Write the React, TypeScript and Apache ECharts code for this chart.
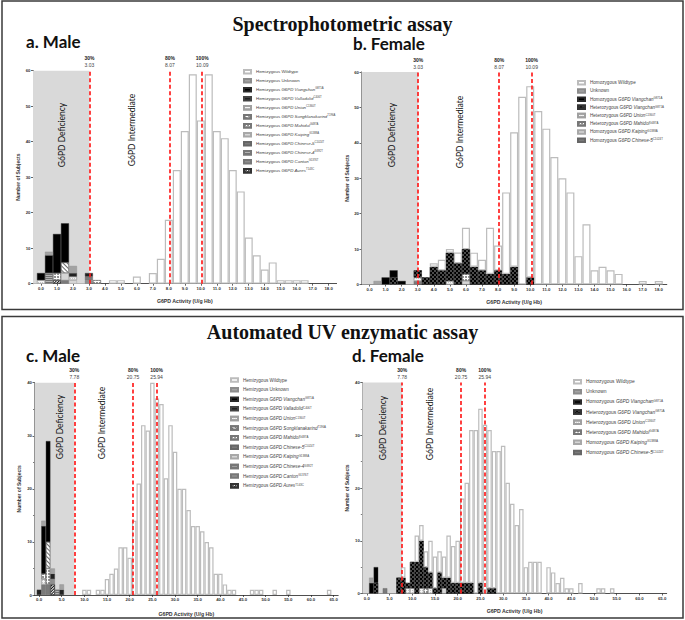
import React, { useEffect, useRef } from "react";
import * as echarts from "echarts";

// ---------- tick labels & thresholds ----------
const SPEC_X_TICKS = [0, 1, 2, 3, 4, 5, 6, 7, 8, 9, 10, 11, 12, 13, 14, 15, 16, 17, 18];
const UV_X_TICKS = [0, 5, 10, 15, 20, 25, 30, 35, 40, 45, 50, 55, 60, 65];
const SPEC_THRESHOLDS = [
  { pct: "30%", value: 3.03 },
  { pct: "80%", value: 8.07 },
  { pct: "100%", value: 10.09 },
];
const UV_THRESHOLDS = [
  { pct: "30%", value: 7.78 },
  { pct: "80%", value: 20.75 },
  { pct: "100%", value: 25.94 },
];

// ---------- a. Male, spectrophotometric ([activity bin, count]) ----------
const A_WILDTYPE = [[4.5, 1], [5, 1], [6, 2], [7, 3], [7.5, 7], [8, 18], [8.5, 32], [9, 43], [9.5, 59], [10, 46], [10.5, 59], [11, 43], [11.5, 41], [12, 32], [12.5, 26], [13, 13], [13.5, 8], [14, 4], [14.5, 6], [15, 1], [15.5, 1], [16, 1], [16.5, 1]];
const A_UNKNOWN = [[0.5, 1], [2, 2]];
const A_VIANGCHAN = [[0, 2], [0.5, 5], [1, 11], [1.5, 11]];
const A_VALLADOLID = [[2, 1], [3, 1]];
const A_UNION = [[0, 1], [2, 1]];
const A_SONGKLANAKARIND = [[1.5, 3]];
const A_MAHIDOL = [[1, 2], [3.5, 1]];
const A_KAIPING = [[1.5, 2], [2, 1]];
const A_CHINESE5 = [[1.5, 1], [3, 1]];
const A_CHINESE4 = [[0.5, 3]];
const A_CANTON = [[3, 1]];
const A_AURES = [[1, 1]];

// ---------- b. Female, spectrophotometric ----------
const B_WILDTYPE = [[4, 1], [4.5, 3], [5, 1], [5.5, 3], [6, 6], [6.5, 4], [7, 3], [7.5, 13], [8, 7], [8.5, 23], [9, 38], [9.5, 53], [10, 54], [10.5, 49], [11, 44], [11.5, 36], [12, 30], [12.5, 26], [13, 8], [13.5, 17], [14, 4], [14.5, 5], [15, 4], [15.5, 3], [17, 1], [18, 1]];
const B_UNKNOWN = [[0.5, 1]];
const B_HOM_VIANGCHAN = [[1, 2], [1.5, 2], [2, 1]];
const B_HET_VIANGCHAN = [[1.5, 2], [3, 2], [3.5, 2], [4, 5], [4.5, 4], [5, 8], [5.5, 6], [6, 7], [6.5, 5], [7, 4], [7.5, 3], [8, 4], [8.5, 3], [9, 5], [10, 2]];
const B_HET_UNION = [[3, 1], [5, 1]];
const B_HET_MAHIDOL = [[6, 2]];
const B_HOM_KAIPING = [[6, 1]];
const B_HOM_CHINESE5 = [[3, 1]];

// ---------- c. Male, automated UV ----------
const C_WILDTYPE = [[10, 1], [11, 1], [13, 1], [14, 1], [15, 3], [16, 4], [17, 5], [18, 9], [19, 9], [20, 7], [21, 14], [22, 21], [23, 32], [24, 31], [25, 40], [26, 37], [27, 36], [28, 22], [29, 32], [30, 27], [31, 20], [32, 20], [33, 16], [34, 13], [35, 13], [36, 12], [37, 10], [38, 9], [39, 4], [40, 4], [41, 2], [42, 1], [43, 1], [47, 1], [48, 1], [49, 1], [52, 1], [55, 1], [64, 1]];
const C_UNKNOWN = [[1, 1], [3, 1], [5, 1]];
const C_VIANGCHAN = [[1, 9], [2, 19]];
const C_VALLADOLID = [[0, 1], [3, 1], [5, 1]];
const C_UNION = [[1, 1]];
const C_SONGKLANAKARIND = [[2, 5]];
const C_MAHIDOL = [[1, 1], [2, 3]];
const C_KAIPING: number[][] = [];
const C_CHINESE5 = [[1, 2], [2, 2]];
const C_CHINESE4 = [[4, 1]];
const C_CANTON = [[3, 1]];
const C_AURES = [[3, 2]];

// ---------- d. Female, automated UV ----------
const D_WILDTYPE = [[8, 2], [11, 5], [12, 3], [13, 3], [14, 6], [15, 6], [16, 4], [17, 4], [18, 8], [19, 7], [20, 8], [21, 16], [22, 19], [23, 29], [24, 31], [25, 33], [26, 32], [27, 30], [28, 26], [29, 27], [30, 28], [31, 21], [32, 17], [33, 13], [34, 16], [35, 5], [36, 6], [37, 6], [38, 6], [40, 5], [41, 4], [42, 2], [43, 3], [44, 1], [45, 1], [47, 2], [51, 1], [52, 1], [54, 1]];
const D_UNKNOWN = [[1, 1]];
const D_HOM_VIANGCHAN = [[1, 2], [2, 3]];
const D_HET_VIANGCHAN = [[2, 2], [7, 3], [8, 3], [9, 1], [10, 5], [11, 6], [12, 9], [13, 4], [14, 3], [15, 1], [16, 4], [17, 2], [18, 3], [19, 2], [20, 2], [21, 2], [22, 2], [23, 2], [25, 2], [27, 1], [28, 1]];
const D_HET_UNION = [[9, 1], [10, 1], [12, 1], [14, 1]];
const D_HET_MAHIDOL = [[13, 1]];
const D_HOM_KAIPING = [[17, 1]];
const D_HOM_CHINESE5 = [[4, 1]];

const SUPERSCRIPTS: Record<string, string> = {
  Viangchan: "G871A",
  Valladolid: "C406T",
  Union: "C1360T",
  Songklanakarind: "T196A",
  Mahidol: "G487A",
  Kaiping: "G1388A",
  "Chinese-5": "C1024T",
  "Chinese-4": "G392T",
  Canton: "G1376T",
  Aures: "T143C",
};

// ---------- styles ----------
const decalChecker = () => ({ symbol: "rect", symbolSize: 1, color: "#000", dashArrayX: [[2, 2], [0, 2, 2, 0]], dashArrayY: [2, 0] });
const decalHatchLight = () => ({ symbol: "rect", symbolSize: 1, color: "#6a6a6a", dashArrayX: [1, 0], dashArrayY: [1, 2], rotation: Math.PI / 4 });
const decalHatchDark = () => ({ symbol: "rect", symbolSize: 1, color: "#111", dashArrayX: [1, 0], dashArrayY: [1, 1], rotation: -Math.PI / 4 });
const decalRings = () => ({ symbol: "circle", symbolSize: 0.8, color: "#555", dashArrayX: [2, 1], dashArrayY: [2, 1] });
const decalLines = () => ({ symbol: "rect", symbolSize: 1, color: "#6f6f6f", dashArrayX: [1, 0], dashArrayY: [1, 1] });
const decalDots = () => ({ symbol: "rect", symbolSize: 1, color: "#c4c4c4", dashArrayX: [1, 1], dashArrayY: [1, 1] });

const STYLES: Record<string, () => any> = {
  wildtype: () => ({ color: "#ffffff", borderColor: "#bcbcbc", borderWidth: 1.2 }),
  unknown: () => ({ color: "#a3a3a3", borderColor: "#8c8c8c", borderWidth: 0.4 }),
  viangchan: () => ({ color: "#000000", borderColor: "#2a2a2a", borderWidth: 0.4 }),
  hetViangchan: () => ({ color: "#4a4a4a", borderColor: "#333", borderWidth: 0.4, decal: decalChecker() }),
  valladolid: () => ({ color: "#222222", borderColor: "#444", borderWidth: 0.4 }),
  union: () => ({ color: "#f5f5f5", borderColor: "#a0a0a0", borderWidth: 0.5, decal: decalDots() }),
  songklanakarind: () => ({ color: "#ffffff", borderColor: "#777", borderWidth: 0.5, decal: decalHatchLight() }),
  mahidol: () => ({ color: "#ffffff", borderColor: "#777", borderWidth: 0.5, decal: decalRings() }),
  kaiping: () => ({ color: "#d6d6d6", borderColor: "#a8a8a8", borderWidth: 0.5 }),
  chinese5: () => ({ color: "#7a7a7a", borderColor: "#666", borderWidth: 0.4 }),
  chinese4: () => ({ color: "#b3b3b3", borderColor: "#777", borderWidth: 0.4, decal: decalLines() }),
  canton: () => ({ color: "#8f8f8f", borderColor: "#777", borderWidth: 0.4 }),
  aures: () => ({ color: "#ffffff", borderColor: "#333", borderWidth: 0.5, decal: decalHatchDark() }),
};

type Layer = [string, string, number[][]];

// layers listed bottom -> top of each stacked bar
const PANEL_LAYERS: Layer[][] = [
  [
    ["Hemizygous G6PD Aures", "aures", A_AURES],
    ["Hemizygous G6PD Chinese-4", "chinese4", A_CHINESE4],
    ["Hemizygous G6PD Canton", "canton", A_CANTON],
    ["Hemizygous G6PD Chinese-5", "chinese5", A_CHINESE5],
    ["Hemizygous G6PD Kaiping", "kaiping", A_KAIPING],
    ["Hemizygous G6PD Union", "union", A_UNION],
    ["Hemizygous G6PD Mahidol", "mahidol", A_MAHIDOL],
    ["Hemizygous G6PD Songklanakarind", "songklanakarind", A_SONGKLANAKARIND],
    ["Hemizygous G6PD Valladolid", "valladolid", A_VALLADOLID],
    ["Hemizygous G6PD Viangchan", "viangchan", A_VIANGCHAN],
    ["Hemizygous Unknown", "unknown", A_UNKNOWN],
    ["Hemizygous Wildtype", "wildtype", A_WILDTYPE],
  ],
  [
    ["Homozygous G6PD Chinese-5", "chinese5", B_HOM_CHINESE5],
    ["Homozygous G6PD Kaiping", "kaiping", B_HOM_KAIPING],
    ["Heterozygous G6PD Mahidol", "mahidol", B_HET_MAHIDOL],
    ["Heterozygous G6PD Union", "union", B_HET_UNION],
    ["Heterozygous G6PD Viangchan", "hetViangchan", B_HET_VIANGCHAN],
    ["Homozygous G6PD Viangchan", "viangchan", B_HOM_VIANGCHAN],
    ["Unknown", "unknown", B_UNKNOWN],
    ["Homozygous Wildtype", "wildtype", B_WILDTYPE],
  ],
  [
    ["Hemizygous G6PD Aures", "aures", C_AURES],
    ["Hemizygous G6PD Chinese-4", "chinese4", C_CHINESE4],
    ["Hemizygous G6PD Canton", "canton", C_CANTON],
    ["Hemizygous G6PD Chinese-5", "chinese5", C_CHINESE5],
    ["Hemizygous G6PD Kaiping", "kaiping", C_KAIPING],
    ["Hemizygous G6PD Union", "union", C_UNION],
    ["Hemizygous G6PD Mahidol", "mahidol", C_MAHIDOL],
    ["Hemizygous G6PD Songklanakarind", "songklanakarind", C_SONGKLANAKARIND],
    ["Hemizygous G6PD Valladolid", "valladolid", C_VALLADOLID],
    ["Hemizygous G6PD Viangchan", "viangchan", C_VIANGCHAN],
    ["Hemizygous Unknown", "unknown", C_UNKNOWN],
    ["Hemizygous Wildtype", "wildtype", C_WILDTYPE],
  ],
  [
    ["Homozygous G6PD Chinese-5", "chinese5", D_HOM_CHINESE5],
    ["Homozygous G6PD Kaiping", "kaiping", D_HOM_KAIPING],
    ["Heterozygous G6PD Mahidol", "mahidol", D_HET_MAHIDOL],
    ["Heterozygous G6PD Union", "union", D_HET_UNION],
    ["Heterozygous G6PD Viangchan", "hetViangchan", D_HET_VIANGCHAN],
    ["Homozygous G6PD Viangchan", "viangchan", D_HOM_VIANGCHAN],
    ["Unknown", "unknown", D_UNKNOWN],
    ["Homozygous Wildtype", "wildtype", D_WILDTYPE],
  ],
];

const LEGEND_A = ["Hemizygous Wildtype", "Hemizygous Unknown", "Hemizygous G6PD Viangchan", "Hemizygous G6PD Valladolid", "Hemizygous G6PD Union", "Hemizygous G6PD Songklanakarind", "Hemizygous G6PD Mahidol", "Hemizygous G6PD Kaiping", "Hemizygous G6PD Chinese-5", "Hemizygous G6PD Chinese-4", "Hemizygous G6PD Canton", "Hemizygous G6PD Aures"];
const LEGEND_C = ["Hemizygous Wildtype", "Hemizygous Unknown", "Hemizygous G6PD Viangchan", "Hemizygous G6PD Valladolid", "Hemizygous G6PD Union", "Hemizygous G6PD Songklanakarind", "Hemizygous G6PD Mahidol", "Hemizygous G6PD Chinese-5", "Hemizygous G6PD Kaiping", "Hemizygous G6PD Chinese-4", "Hemizygous G6PD Canton", "Hemizygous G6PD Aures"];
const LEGEND_FEMALE = ["Homozygous Wildtype", "Unknown", "Homozygous G6PD Viangchan", "Heterozygous G6PD Viangchan", "Heterozygous G6PD Union", "Heterozygous G6PD Mahidol", "Homozygous G6PD Kaiping", "Homozygous G6PD Chinese-5"];
const PANEL_LEGENDS = [LEGEND_A, LEGEND_FEMALE, LEGEND_C, LEGEND_FEMALE];
const PANEL_THRESHOLDS = [SPEC_THRESHOLDS, SPEC_THRESHOLDS, UV_THRESHOLDS, UV_THRESHOLDS];
const PANEL_TICKS = [SPEC_X_TICKS, SPEC_X_TICKS, UV_X_TICKS, UV_X_TICKS];

// layout (pixels); binStep = histogram bin width in activity units
const LAYOUT = [
  { left: 33, top: 70.7, width: 303.6, height: 213, xMin: -0.5, xMax: 18.5, binStep: 0.5, yMax: 60, barWidth: 8, lg: { left: 243, top: 69, gap: 3.5, fs: 4.4 }, xGap: 15, yGap: 13, minor: false },
  { left: 361.5, top: 72, width: 305.3, height: 212.5, xMin: -0.5, xMax: 18.5, binStep: 0.5, yMax: 60, barWidth: 8, lg: { left: 577, top: 80, gap: 2.7, fs: 4.6 }, xGap: 15, yGap: 12.5, minor: false },
  { left: 34.5, top: 382.7, width: 303.7, height: 212.3, xMin: -1, xMax: 66, binStep: 1, yMax: 40, barWidth: 4.5, lg: { left: 230, top: 377.3, gap: 4.1, fs: 4.6 }, xGap: 16, yGap: 13, minor: true },
  { left: 362.3, top: 382.5, width: 304.4, height: 211, xMin: -1, xMax: 66, binStep: 1, yMax: 40, barWidth: 4.5, lg: { left: 573, top: 379, gap: 4.6, fs: 4.9 }, xGap: 15, yGap: 12.5, minor: true },
];

const FONT = "Liberation Sans";

function legendFormatter(name: string) {
  const i = name.indexOf("G6PD ");
  if (i < 0) return `{p|${name}}`;
  const variant = name.slice(i + 5);
  return `{p|${name.slice(0, i)}}{i|${name.slice(i)}}{s|${SUPERSCRIPTS[variant] ?? ""}}`;
}

const key = (v: number) => Math.round(v * 100) / 100;

function buildOption() {
  const grid: any[] = [];
  const xAxis: any[] = [];
  const yAxis: any[] = [];
  const legend: any[] = [];
  const series: any[] = [];

  LAYOUT.forEach((L, idx) => {
    grid.push({ left: L.left, top: L.top, width: L.width, height: L.height, containLabel: false });
    const ticks = PANEL_TICKS[idx];
    // visible value axis (index 2*idx)
    xAxis.push({
      gridIndex: idx,
      type: "value",
      min: L.xMin,
      max: L.xMax,
      axisLine: { show: true, onZero: false, lineStyle: { color: "#222", width: 0.8 } },
      axisTick: { show: true, length: 2, customValues: ticks, lineStyle: { color: "#222", width: 0.7 } },
      axisLabel: {
        customValues: ticks,
        formatter: (v: number) => v.toFixed(1),
        fontSize: 4.3,
        fontWeight: "bold",
        color: "#333",
        margin: 2.8,
        fontFamily: FONT,
      },
      splitLine: { show: false },
      name: "G6PD Activity (U/g Hb)",
      nameLocation: "middle",
      nameGap: L.xGap,
      nameTextStyle: { fontSize: 5.2, fontWeight: "bold", color: "#333", fontFamily: FONT },
    });
    // hidden bin axis spanning the same range (index 2*idx+1)
    const nBins = Math.round((L.xMax - L.xMin) / L.binStep) + 1;
    const cats: number[] = [];
    for (let k = 0; k < nBins; k++) cats.push(key(L.xMin + k * L.binStep));
    xAxis.push({
      gridIndex: idx,
      type: "category",
      data: cats.map(String),
      boundaryGap: false,
      show: false,
    });
    yAxis.push({
      gridIndex: idx,
      type: "value",
      min: 0,
      max: L.yMax,
      interval: 10,
      axisLine: { show: true, onZero: false, lineStyle: { color: "#222", width: 0.8 } },
      axisTick: { show: true, length: 2, lineStyle: { color: "#222", width: 0.7 } },
      minorTick: { show: L.minor, splitNumber: 2, length: 1.5, lineStyle: { color: "#222", width: 0.6 } },
      axisLabel: { fontSize: 4.3, fontWeight: "bold", color: "#333", margin: 2.5, fontFamily: FONT },
      splitLine: { show: false },
      name: "Number of Subjects",
      nameLocation: "middle",
      nameRotate: 90,
      nameGap: L.yGap,
      nameTextStyle: { fontSize: 5, fontWeight: "bold", color: "#333", fontFamily: FONT },
    });

    const fs = L.lg.fs;
    legend.push({
      data: PANEL_LEGENDS[idx],
      orient: "vertical",
      left: L.lg.left,
      top: L.lg.top,
      padding: 0,
      itemGap: L.lg.gap,
      itemWidth: 7,
      itemHeight: 3.5,
      icon: "rect",
      selectedMode: false,
      formatter: legendFormatter,
      textStyle: {
        fontFamily: FONT,
        color: "#444",
        fontSize: fs,
        rich: {
          p: { fontSize: fs, lineHeight: 5.5, color: "#444", fontFamily: FONT },
          i: { fontSize: fs, lineHeight: 5.5, fontStyle: "italic", color: "#444", fontFamily: FONT },
          s: { fontSize: fs * 0.62, lineHeight: fs * 0.62, verticalAlign: "top", color: "#444", fontFamily: FONT },
        },
      },
    });

    PANEL_LAYERS[idx].forEach(([name, k, d]) => {
      const m = new Map<number, number>(d.map(([x, y]) => [key(x), y] as [number, number]));
      series.push({
        type: "bar",
        name,
        xAxisIndex: 2 * idx + 1,
        yAxisIndex: idx,
        stack: "stack" + idx,
        barWidth: L.barWidth,
        silent: true,
        emphasis: { disabled: true },
        itemStyle: STYLES[k](),
        data: cats.map((c) => (m.has(c) ? m.get(c) : "-")),
        z: 3,
      });
    });

    const th = PANEL_THRESHOLDS[idx];
    series.push({
      type: "line",
      name: "__markers" + idx,
      xAxisIndex: 2 * idx,
      yAxisIndex: idx,
      data: [],
      silent: true,
      markArea: {
        silent: true,
        itemStyle: { color: "#d9d9d9" },
        data: [[{ coord: [L.xMin, 0] }, { coord: [th[0].value, L.yMax] }]],
      },
      markLine: {
        silent: true,
        symbol: ["none", "none"],
        lineStyle: { color: "#ff1f1f", type: [4, 2.5], width: 1.7 },
        label: {
          show: true,
          position: "end",
          distance: 2,
          fontFamily: FONT,
          rich: {
            pc: { fontSize: 5, fontWeight: "bold", lineHeight: 7, color: "#222", fontFamily: FONT },
            vl: { fontSize: 5, lineHeight: 7, color: "#444", fontFamily: FONT },
          },
        },
        data: th.map((t) => [
          { coord: [t.value, 0], label: { formatter: `{pc|${t.pct}}\n{vl|${t.value.toFixed(2)}}` } },
          { coord: [t.value, L.yMax] },
        ]),
      },
    });
  });

  const txt = (x: number, y: number, text: string, size: number, family: string, weight: string, align: string, rotation = 0) => ({
    type: "text",
    x,
    y,
    rotation,
    z: 20,
    silent: true,
    style: {
      text,
      fontSize: size,
      fontFamily: family,
      fontWeight: weight,
      fill: "#111",
      align,
      textAlign: align,
      verticalAlign: "middle",
      textVerticalAlign: "middle",
    },
  });

  const graphic = [
    { type: "rect", z: 20, silent: true, shape: { x: 2, y: 1, width: 681, height: 308.5 }, style: { fill: "none", stroke: "#3a3a3a", lineWidth: 1.5 } },
    { type: "rect", z: 20, silent: true, shape: { x: 2, y: 316.5, width: 681, height: 301.5 }, style: { fill: "none", stroke: "#3a3a3a", lineWidth: 1.5 } },
    txt(342.5, 23.5, "Spectrophotometric assay", 20, "Liberation Serif", "bold", "center"),
    txt(342.5, 332.3, "Automated UV enzymatic assay", 20, "Liberation Serif", "bold", "center"),
    txt(26, 41.5, "a. Male", 17, "Lato", "bold", "left"),
    txt(353, 43.5, "b. Female", 17, "Lato", "bold", "left"),
    txt(26, 355.5, "c. Male", 17, "Lato", "bold", "left"),
    txt(352, 355.5, "d. Female", 17, "Lato", "bold", "left"),
    txt(62, 135, "G6PD Deficiency", 8.5, "Lato", "normal", "center", Math.PI / 2),
    txt(131.7, 130, "G6PD Intermediate", 8.5, "Lato", "normal", "center", Math.PI / 2),
    txt(391.7, 135, "G6PD Deficiency", 8.5, "Lato", "normal", "center", Math.PI / 2),
    txt(460, 132, "G6PD Intermediate", 8.5, "Lato", "normal", "center", Math.PI / 2),
    txt(60, 427, "G6PD Deficiency", 8.5, "Lato", "normal", "center", Math.PI / 2),
    txt(101.7, 423, "G6PD Intermediate", 8.5, "Lato", "normal", "center", Math.PI / 2),
    txt(383, 428, "G6PD Deficiency", 8.5, "Lato", "normal", "center", Math.PI / 2),
    txt(430, 424, "G6PD Intermediate", 8.5, "Lato", "normal", "center", Math.PI / 2),
  ];

  return {
    animation: false,
    backgroundColor: "#ffffff",
    textStyle: { fontFamily: FONT },
    grid,
    xAxis,
    yAxis,
    legend,
    series,
    graphic,
  };
}

export default function App() {
  const ref = useRef<HTMLDivElement>(null);
  useEffect(() => {
    if (!ref.current) return;
    const chart = echarts.init(ref.current, null, { renderer: "svg" });
    chart.setOption(buildOption() as any);
    return () => chart.dispose();
  }, []);
  return (
    <div
      ref={ref}
      style={{ position: "fixed", left: 0, top: 0, width: 685, height: 620, background: "#fff" }}
    />
  );
}
